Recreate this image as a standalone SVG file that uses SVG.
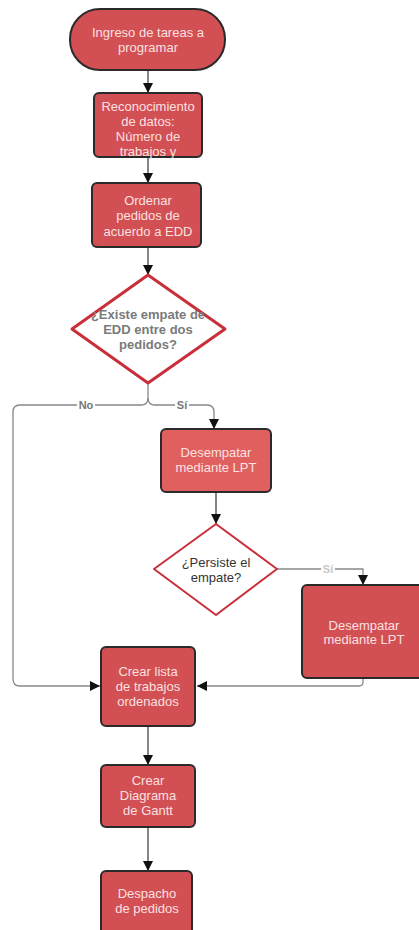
<svg xmlns="http://www.w3.org/2000/svg" width="419" height="930" viewBox="0 0 419 930">
<defs>
<marker id="ah" viewBox="0 0 10 10" refX="10" refY="5" markerWidth="10" markerHeight="10" markerUnits="userSpaceOnUse" orient="auto">
<path d="M0,0 L10,5 L0,10 Z" fill="#111"/>
</marker>
<style>
.box{fill:#d24f53;stroke:#2a2a2a;stroke-width:2}
.box2{fill:#e0605f;stroke:#2a2a2a;stroke-width:2}
.dia{fill:#fff;stroke:#c92f3a;stroke-width:2}
.t{font-family:"Liberation Sans",Arial,sans-serif;font-size:13px;fill:#fbe0e0;text-anchor:middle}
.dt{font-family:"Liberation Sans",Arial,sans-serif;font-size:13px;fill:#333;text-anchor:middle}
.dtb{font-family:"Liberation Sans",Arial,sans-serif;font-size:13px;font-weight:bold;fill:#7a7a7a;text-anchor:middle}
.c{fill:none;stroke:#444;stroke-width:1.3}
.c2{fill:none;stroke:#888;stroke-width:1.3}
.lbl{font-family:"Liberation Sans",Arial,sans-serif;font-size:11px;font-weight:bold;fill:#777;text-anchor:middle}
.lbl2{font-family:"Liberation Sans",Arial,sans-serif;font-size:11px;font-weight:bold;fill:#c8c8c8;text-anchor:middle}
</style>
</defs>
<rect width="419" height="930" fill="#fff"/>

<g id="connectors">
<path class="c" d="M148,70 V93" marker-end="url(#ah)"/>
<path class="c" d="M148,157 V183" marker-end="url(#ah)"/>
<path class="c" d="M148,247 V275" marker-end="url(#ah)"/>
<path class="c2" d="M148,383 V398 Q148,405 141,405 H20 Q13,405 13,412 V679 Q13,686 20,686 H100" marker-end="url(#ah)"/>
<path class="c2" d="M148,398 Q148,405 155,405 H207 Q214,405 214,412 V429" marker-end="url(#ah)"/>
<rect x="77" y="399" width="18" height="12" fill="#fff"/>
<text class="lbl" x="86" y="409">No</text>
<rect x="175" y="399" width="14" height="12" fill="#fff"/>
<text class="lbl" x="182" y="409">Sí</text>
<path class="c" d="M216,492 V524" marker-end="url(#ah)"/>
<path class="c2" d="M277,569 H363 V585" marker-end="url(#ah)"/>
<rect x="321" y="563" width="14" height="12" fill="#fff"/>
<text class="lbl2" x="328" y="573">Sí</text>
<path class="c2" d="M363,678 V682 Q363,686 359,686 H197" marker-end="url(#ah)"/>
<path class="c" d="M148,726 V765" marker-end="url(#ah)"/>
<path class="c" d="M148,827 V871" marker-end="url(#ah)"/>
</g>

<g id="n1">
<rect class="box" x="70" y="9" width="155" height="61" rx="30"/>
<text class="t" x="148" y="37">Ingreso de tareas a</text>
<text class="t" x="148" y="52">programar</text>
</g>

<g id="n2">
<rect class="box" x="94" y="93" width="108" height="64" rx="5"/>
<text class="t" x="148" y="111">Reconocimiento</text>
<text class="t" x="148" y="126">de datos:</text>
<text class="t" x="148" y="141">Número de</text>
<text class="t" x="148" y="156">trabajos y</text>
</g>

<g id="n3">
<rect class="box" x="92" y="183" width="109" height="64" rx="5"/>
<text class="t" x="148" y="205">Ordenar</text>
<text class="t" x="148" y="220">pedidos de</text>
<text class="t" x="148" y="236">acuerdo a EDD</text>
</g>

<g id="d1">
<polygon class="dia" points="148,275 225,329 148,383 72,329" stroke-width="3" style="stroke-width:3;stroke-linejoin:round"/>
<text class="dtb" x="148" y="319">¿Existe empate de</text>
<text class="dtb" x="148" y="334">EDD entre dos</text>
<text class="dtb" x="148" y="349">pedidos?</text>
</g>

<g id="n4">
<rect class="box2" x="161" y="429" width="110" height="63" rx="5"/>
<text class="t" x="216" y="457">Desempatar</text>
<text class="t" x="216" y="472">mediante LPT</text>
</g>

<g id="d2">
<polygon class="dia" points="216,524 277,569 216,615 154,569" style="stroke-linejoin:round"/>
<text class="dt" x="216" y="567">¿Persiste el</text>
<text class="dt" x="216" y="582">empate?</text>
</g>

<g id="n5">
<rect class="box" x="302" y="585" width="126" height="93" rx="5"/>
<text class="t" x="364" y="630">Desempatar</text>
<text class="t" x="364" y="644">mediante LPT</text>
</g>

<g id="n6">
<rect class="box" x="101" y="647" width="94" height="79" rx="5"/>
<text class="t" x="148" y="676">Crear lista</text>
<text class="t" x="148" y="691">de trabajos</text>
<text class="t" x="148" y="706">ordenados</text>
</g>

<g id="n7">
<rect class="box" x="101" y="765" width="94" height="62" rx="5"/>
<text class="t" x="148" y="785">Crear</text>
<text class="t" x="148" y="800">Diagrama</text>
<text class="t" x="148" y="815">de Gantt</text>
</g>

<g id="n8">
<rect class="box" x="101" y="871" width="91" height="70" rx="5"/>
<text class="t" x="147" y="898">Despacho</text>
<text class="t" x="147" y="913">de pedidos</text>
</g>
</svg>
